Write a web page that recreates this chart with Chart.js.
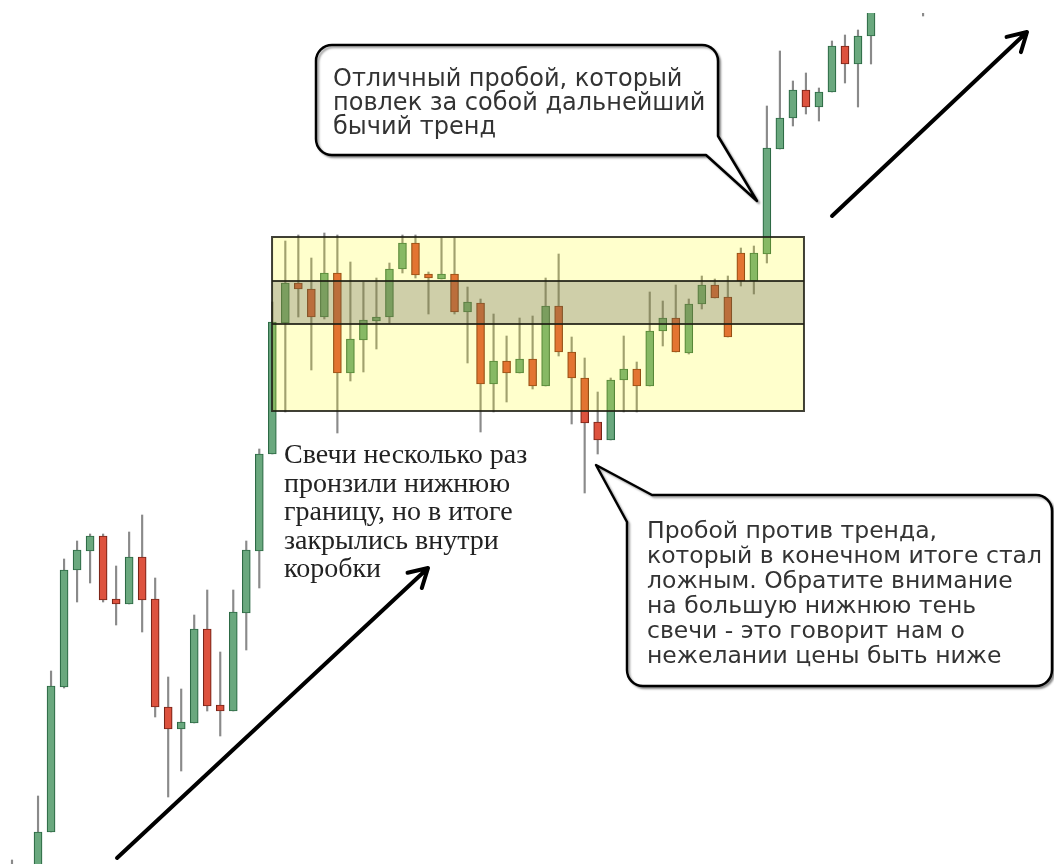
<!DOCTYPE html>
<html>
<head>
<meta charset="utf-8">
<script src="https://cdn.jsdelivr.net/npm/chart.js@4.4.0/dist/chart.umd.min.js"></script>
<style>
  html, body { margin: 0; padding: 0; background: #fff; overflow: hidden; }
  #wrap { width: 1054px; height: 864px; position: relative; }
</style>
</head>
<body>
<div id="wrap"><canvas id="candles"></canvas></div>
<script>
// price data (arbitrary price units)
const opens  = [-36, -16, -16, 32, 177, 294, 313, 328, 265, 260, 307, 265, 157, 135, 141, 235, 159, 153, 251, 313,
                410, 541, 581, 575, 547, 591, 491, 524, 543, 547, 595, 621, 590, 585, 590, 552, 561, 480, 503, 491,
                505, 478, 558, 512, 486, 442, 424, 484, 495, 478, 533, 546, 511, 560, 579, 567, 611, 583, 610, 715,
                746, 774, 757, 772, 818, 800, 828, 874, 890, 905, 893];
const highs  = [4, -2, 68, 193, 305, 323, 330, 330, 298, 332, 349, 286, 187, 175, 249, 274, 212, 274, 323, 415,
                562, 623, 629, 606, 631, 629, 602, 582, 586, 601, 629, 629, 592, 626, 626, 577, 565, 550, 528, 546,
                548, 586, 610, 527, 506, 472, 486, 528, 502, 572, 563, 579, 565, 588, 585, 588, 616, 618, 758, 813,
                783, 791, 776, 823, 829, 834, 884, 900, 915, 918, 920];
const lows   = [-41, -26, -21, 32, 176, 262, 281, 262, 239, 260, 232, 147, 67, 93, 141, 153, 128, 153, 214, 276,
                410, 452, 547, 494, 545, 431, 483, 492, 515, 541, 591, 586, 550, 585, 550, 501, 432, 452, 462, 491,
                475, 478, 508, 440, 371, 410, 424, 452, 452, 478, 518, 512, 510, 555, 566, 527, 578, 570, 601, 715,
                738, 750, 743, 772, 781, 757, 800, 866, 880, 870, 848];
const closes = [-11, -6, 32, 178, 294, 314, 328, 264, 260, 307, 264, 157, 135, 142, 235, 158, 153, 252, 314, 410,
                542, 581, 575, 547, 591, 491, 525, 544, 547, 595, 621, 589, 586, 590, 552, 562, 480, 503, 491, 505,
                478, 558, 512, 486, 441, 424, 484, 495, 478, 533, 546, 512, 560, 579, 566, 527, 583, 611, 716, 746,
                774, 757, 772, 818, 800, 828, 874, 890, 905, 893, 910];

// consolidation box (candle index / price)
const boxFrom = 19.98, boxTo = 60.85;
const boxTop = 627, boxBottom = 453;
const bandTop = 583, bandBottom = 540;

const topNote = ['Отличный пробой, который', 'повлек за собой дальнейший', 'бычий тренд'];
const sideNote = ['Свечи несколько раз', 'пронзили нижнюю', 'границу, но в итоге', 'закрылись внутри', 'коробки'];
const rightNote = ['Пробой против тренда,', 'который в конечном итоге стал', 'ложным. Обратите внимание',
                   'на большую нижнюю тень', 'свечи - это говорит нам о', 'нежелании цены быть ниже'];

const up = opens.map((o, i) => closes[i] >= o);
const bodies = opens.map((o, i) => ({ x: i, y: [o, closes[i]] }));
const wicks = lows.map((l, i) => ({ x: i, y: [l, highs[i]] }));

function callout(ctx, pts, r) {
  // pts: corners; a third item marks a rounded corner, otherwise sharp (tail)
  ctx.beginPath();
  const n = pts.length;
  ctx.moveTo(pts[0][0], pts[0][1]);
  for (let k = 1; k <= n; k++) {
    const p = pts[k % n], q = pts[(k + 1) % n];
    if (p[2]) ctx.arcTo(p[0], p[1], q[0], q[1], r);
    else ctx.lineTo(p[0], p[1]);
  }
  ctx.closePath();
}

function arrow(ctx, x1, y1, x2, y2) {
  const a = Math.atan2(y1 - y2, x1 - x2);
  const len = 21, sp = 0.52;
  ctx.beginPath();
  ctx.moveTo(x1, y1);
  ctx.lineTo(x2, y2);
  ctx.moveTo(x2 + len * Math.cos(a + sp), y2 + len * Math.sin(a + sp));
  ctx.lineTo(x2, y2);
  ctx.lineTo(x2 + len * Math.cos(a - sp), y2 + len * Math.sin(a - sp));
  ctx.stroke();
}

const overlay = {
  id: 'overlay',
  afterDatasetsDraw(chart) {
    const ctx = chart.ctx;
    const xs = chart.scales.x, ys = chart.scales.y;
    const bx0 = xs.getPixelForValue(boxFrom), bx1 = xs.getPixelForValue(boxTo);
    const by0 = ys.getPixelForValue(boxTop), by1 = ys.getPixelForValue(boxBottom);
    const my0 = ys.getPixelForValue(bandTop), my1 = ys.getPixelForValue(bandBottom);
    ctx.save();
    ctx.fillStyle = 'rgba(255,255,0,0.2)';
    ctx.fillRect(bx0, by0, bx1 - bx0, by1 - by0);
    ctx.fillStyle = 'rgba(95,95,85,0.3)';
    ctx.fillRect(bx0, my0, bx1 - bx0, my1 - my0);
    ctx.strokeStyle = 'rgba(30,30,20,0.85)';
    ctx.lineWidth = 2;
    ctx.strokeRect(bx0, by0, bx1 - bx0, by1 - by0);
    ctx.beginPath();
    ctx.moveTo(bx0, my0); ctx.lineTo(bx1, my0);
    ctx.moveTo(bx0, my1); ctx.lineTo(bx1, my1);
    ctx.stroke();

    // speech bubbles
    ctx.lineJoin = 'round';
    ctx.shadowColor = 'rgba(0,0,0,0.35)';
    ctx.shadowOffsetX = 2; ctx.shadowOffsetY = 2; ctx.shadowBlur = 2;
    ctx.fillStyle = '#fff';
    ctx.strokeStyle = '#000';
    ctx.lineWidth = 2.5;
    callout(ctx, [[332, 45], [718, 45, 1], [718, 136], [757, 201], [706, 155], [316, 155, 1], [316, 45, 1]], 16);
    ctx.fill(); ctx.stroke();
    callout(ctx, [[652, 495], [1052, 495, 1], [1052, 686, 1], [627, 686, 1], [627, 522], [596, 465]], 16);
    ctx.fill(); ctx.stroke();
    ctx.shadowColor = 'transparent';

    ctx.fillStyle = '#333';
    ctx.font = '24px "DejaVu Sans"';
    topNote.forEach((t, k) => ctx.fillText(t, 333, 86 + k * 24));
    ctx.font = '23.5px "DejaVu Sans"';
    rightNote.forEach((t, k) => ctx.fillText(t, 647, 538 + k * 25));
    ctx.fillStyle = '#222';
    ctx.font = '28px "Liberation Serif"';
    sideNote.forEach((t, k) => ctx.fillText(t, 284, 463 + k * 28.5));

    // trend arrows
    ctx.strokeStyle = '#000';
    ctx.lineWidth = 4;
    ctx.lineCap = 'round';
    arrow(ctx, 117, 858, 428, 568);
    arrow(ctx, 832, 216, 1027, 32);
    ctx.restore();
  }
};

new Chart(document.getElementById('candles'), {
  type: 'bar',
  data: {
    datasets: [{
      label: 'body',
      data: bodies,
      grouped: false,
      order: 0,
      barThickness: 8,
      borderWidth: 1.2,
      borderSkipped: false,
      backgroundColor: up.map(u => u ? '#6aa87e' : '#dd523e'),
      borderColor: up.map(u => u ? '#2d6a45' : '#7a2418')
    }, {
      label: 'wick',
      data: wicks,
      grouped: false,
      order: 1,
      barThickness: 1.5,
      borderWidth: 0,
      backgroundColor: '#8a8a8a'
    }]
  },
  options: {
    responsive: true,
    maintainAspectRatio: false,
    animation: false,
    layout: { padding: { top: 13, left: 0, right: 0, bottom: 0 } },
    plugins: { legend: { display: false }, tooltip: { enabled: false } },
    scales: {
      x: { type: 'linear', min: -0.922, max: 80.06, display: false, offset: false },
      y: { min: 0, max: 851, display: false }
    }
  },
  plugins: [overlay]
});
</script>
</body>
</html>
